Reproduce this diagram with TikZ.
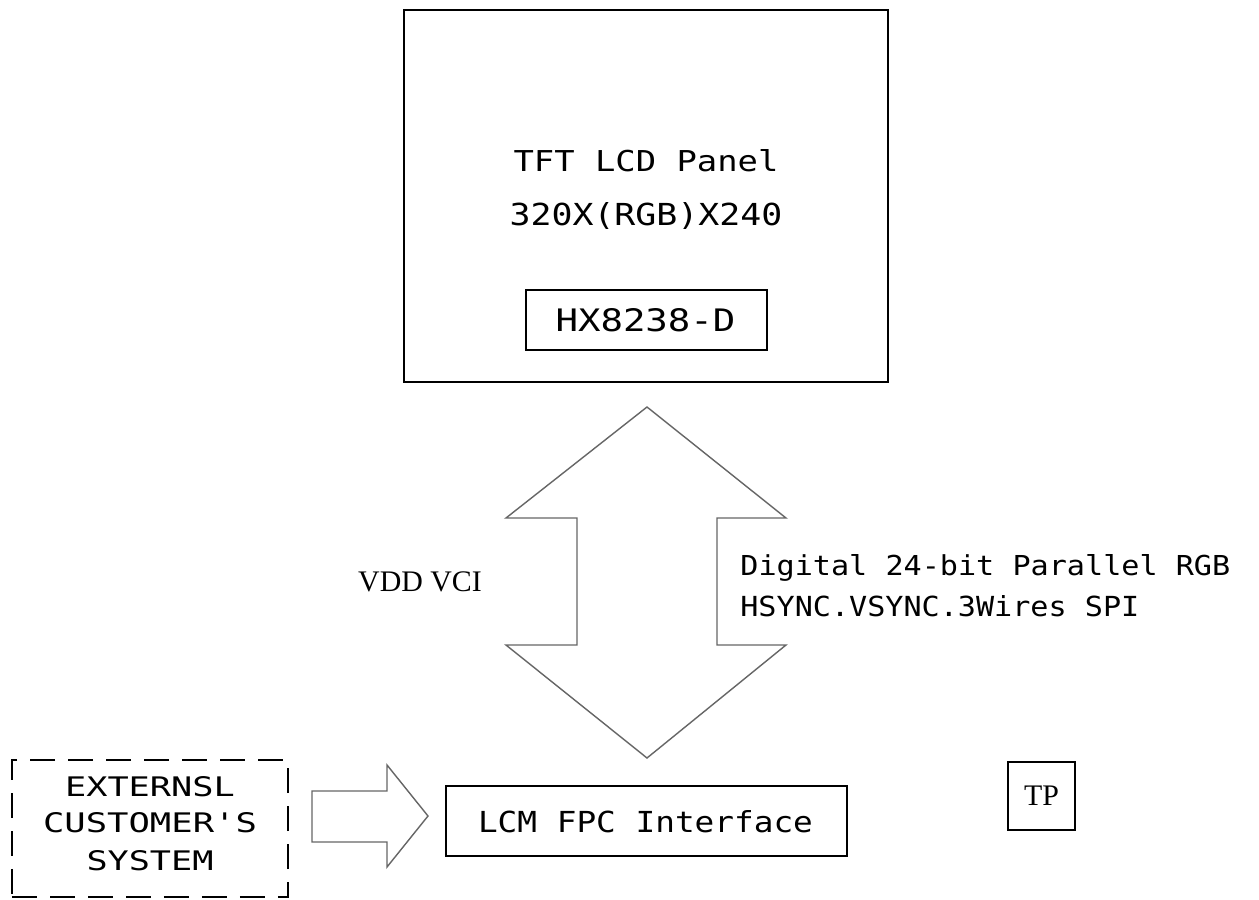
\documentclass[tikz,border=0pt]{standalone}
\usepackage{fontspec}
\setmainfont{Liberation Serif}
\newfontfamily\cad{DejaVu Sans Mono}
\usepackage{graphicx}
\newcommand{\cadtext}[3]{\resizebox{#1}{#2}{\cad #3}}
\begin{document}
\begin{tikzpicture}[x=0.02cm,y=-0.02cm,
  solidbox/.style={draw=black, line width=1.3pt, inner sep=0pt},
  dashbox/.style={draw=black, line width=1.3pt, inner sep=0pt, dash pattern=on 0.5cm off 0.26cm},
  blockarrow/.style={draw=black!60, line width=0.8pt, line join=miter},
  cadlabel/.style={inner sep=0pt, text=black},
  serlabel/.style={inner sep=0pt, text=black, font=\fontsize{17}{20}\selectfont}]
\useasboundingbox (0,0) rectangle (1259,900);
\fill[white] (0,0) rectangle (1259,900);

% top panel
\node[solidbox, minimum width=9.68cm, minimum height=7.44cm] (panel) at (646,196) {};
\node[cadlabel, anchor=base] (t1) at (646,171) {\cadtext{5.3cm}{0.44cm}{TFT LCD Panel}};
\node[cadlabel, anchor=base] (t2) at (646,225) {\cadtext{5.46cm}{0.46cm}{320X(RGB)X240}};
\node[solidbox, minimum width=4.82cm, minimum height=1.2cm] (hx) at (646.5,320) {};
\node[cadlabel, anchor=base] (hxt) at (645.5,331.5) {\cadtext{3.6cm}{0.46cm}{HX8238-D}};

% double block arrow
\draw[blockarrow] (647,407) -- (786,518) -- (717,518) -- (717,645) -- (786,645)
  -- (647,758) -- (506,645) -- (577,645) -- (577,518) -- (506,518) -- cycle;

\node[serlabel] (vdd) at (420,582) {VDD VCI};
\node[cadlabel, anchor=base west] (d1) at (740,575) {\cadtext{9.8cm}{0.42cm}{Digital 24-bit Parallel RGB}};
\node[cadlabel, anchor=base west] (d2) at (740,616) {\cadtext{7.98cm}{0.42cm}{HSYNC.VSYNC.3Wires SPI}};

% external system
\node[dashbox, minimum width=5.52cm, minimum height=2.74cm] (ext) at (150,828.5) {};
\node[cadlabel, anchor=base] (e1) at (150,796) {\cadtext{3.4cm}{0.4cm}{EXTERNSL}};
\node[cadlabel, anchor=base] (e2) at (150,832) {\cadtext{4.28cm}{0.4cm}{CUSTOMER'S}};
\node[cadlabel, anchor=base] (e3) at (150,870) {\cadtext{2.54cm}{0.4cm}{SYSTEM}};

% right block arrow
\draw[blockarrow] (312,791) -- (387,791) -- (387,765) -- (428,816) -- (387,867)
  -- (387,842) -- (312,842) -- cycle;

% LCM FPC
\node[solidbox, minimum width=8.02cm, minimum height=1.4cm] (lcm) at (646.5,821) {};
\node[cadlabel, anchor=base] (lcmt) at (645.5,832) {\cadtext{6.7cm}{0.44cm}{LCM FPC Interface}};

% TP
\node[solidbox, minimum width=1.34cm, minimum height=1.36cm] (tp) at (1041.5,796) {};
\node[serlabel] (tpt) at (tp.center) {TP};
\end{tikzpicture}
\end{document}
